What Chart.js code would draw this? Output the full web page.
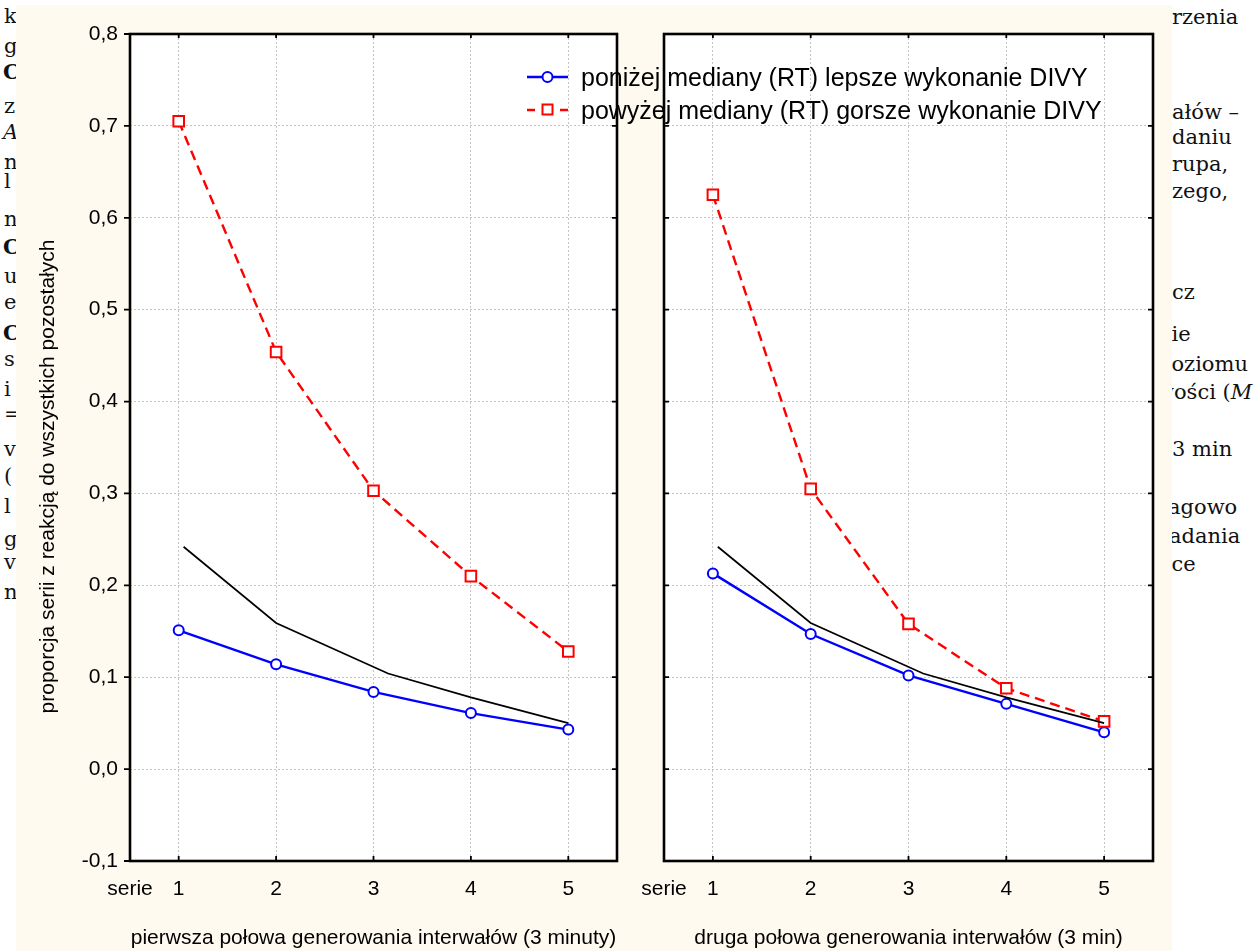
<!DOCTYPE html>
<html>
<head>
<meta charset="utf-8">
<script src="https://cdn.jsdelivr.net/npm/chart.js@4.4.1/dist/chart.umd.min.js"></script>
<style>
html, body { margin: 0; padding: 0; background: #fff; }
body { width: 1259px; height: 951px; position: relative; overflow: hidden; font-family: "Liberation Sans", Arial, sans-serif; }
#bgtext { position: absolute; left: 0; top: 0; width: 1259px; height: 951px; font-family: "DejaVu Serif", serif; font-size: 21px; color: #111; }
#bgtext span { position: absolute; white-space: nowrap; line-height: 1; }
#paper { position: absolute; left: 16px; top: 5px; width: 1156px; height: 946px; background: #fffaf0; }
.wrap { position: absolute; top: 5px; height: 946px; }
#leftWrap { left: 16px; width: 614px; }
#rightWrap { left: 630px; width: 541px; }
#legend { position: absolute; left: 527px; top: 0; font-size: 25px; color: #000; }
.row { position: absolute; left: 0; height: 24px; line-height: 24px; white-space: nowrap; }
.sample { position: absolute; left: 0; top: 0; width: 41px; height: 24px; }
.label { position: absolute; left: 54px; top: 0; }
</style>
</head>
<body>
<div id="bgtext"></div>
<div id="paper"></div>
<div class="wrap" id="leftWrap"><canvas id="chartLeft" width="614" height="946"></canvas></div>
<div class="wrap" id="rightWrap"><canvas id="chartRight" width="541" height="946"></canvas></div>
<div id="legend"></div>

<script>
/* ================= DATA ================= */
const seriesX = [1, 2, 3, 4, 5];
const seriesNames = [
    "poniżej mediany (RT) lepsze wykonanie DIVY",
    "powyżej mediany (RT) gorsze wykonanie DIVY"
];

// pierwsza połowa
const blueLeft = [0.151, 0.114, 0.084, 0.061, 0.043];
const redLeft = [0.705, 0.454, 0.303, 0.210, 0.128];
// druga połowa
const blueRight = [0.213, 0.147, 0.102, 0.071, 0.040];
const redRight = [0.625, 0.305, 0.158, 0.088, 0.052];
// black reference line (same in both panels)
const blackX = [1.05, 2, 3.15, 4, 5];
const blackY = [0.242, 0.159, 0.104, 0.078, 0.050];

const xTickPos = [0.5, 1, 2, 3, 4, 5];
const xTickLabels = ["serie", "1", "2", "3", "4", "5"];
const yTicks = [-0.1, 0, 0.1, 0.2, 0.3, 0.4, 0.5, 0.6, 0.7, 0.8];

const yTitle = "proporcja serii z reakcją do wszystkich pozostałych";
const xTitleLeft = "pierwsza połowa generowania interwałów (3 minuty)";
const xTitleRight = "druga połowa generowania interwałów (3 min)";

// fragments of the page behind the figure
const bgLines = [
    [1172, 7, "rzenia"], [1172, 102, "ałów –"], [1172, 127, "daniu"],
    [1172, 154, "rupa,"], [1172, 181, "zego,"], [1172, 282, "cz"],
    [1158, 324, "nie"], [1158, 354, "poziomu"], [1156, 382, "wości (<i>M</i>"],
    [1172, 439, " 3 min"], [1158, 497, "ragowo"], [1158, 526, "zadania"], [1158, 554, "ńce"],
    [4, 6, "k"], [4, 36, "g"], [3, 61, "<b>C</b>"], [4, 96, "z"], [3, 122, "<i>A</i>"],
    [4, 152, "n"], [4, 171, "l"], [4, 209, "n"], [3, 236, "<b>C</b>"], [4, 266, "u"],
    [4, 292, "e"], [3, 322, "<b>C</b>"], [4, 349, "s"], [4, 379, "i"], [4, 404, "="],
    [4, 439, "v"], [4, 466, "("], [4, 496, "l"], [4, 529, "g"], [4, 552, "v"], [4, 582, "n"]
];

const BLUE = "#0000ff";
const RED = "#ff0000";
const FONT = "'Liberation Sans', Arial, sans-serif";

/* ================= BACKGROUND TEXT ================= */
const bg = document.getElementById("bgtext");
bgLines.forEach(([x, y, t]) => {
    const s = document.createElement("span");
    s.style.left = x + "px";
    s.style.top = y + "px";
    s.innerHTML = t;
    bg.appendChild(s);
});

/* ================= LEGEND ================= */
const legend = document.getElementById("legend");
[
    { top: 65, color: BLUE, dashed: false },
    { top: 98, color: RED, dashed: true }
].forEach((row, i) => {
    const div = document.createElement("div");
    div.className = "row";
    div.style.top = row.top + "px";
    const c = document.createElement("canvas");
    c.className = "sample";
    c.width = 41; c.height = 24;
    const g = c.getContext("2d");
    g.strokeStyle = row.color;
    g.lineWidth = 2.5;
    g.beginPath();
    if (row.dashed) {
        g.moveTo(0, 12); g.lineTo(8, 12);
        g.moveTo(33, 12); g.lineTo(41, 12);
        g.stroke();
        g.lineWidth = 2;
        g.fillStyle = "#fff";
        g.fillRect(15.5, 6.5, 10, 10);
        g.strokeRect(15.5, 6.5, 10, 10);
    } else {
        g.moveTo(0, 12); g.lineTo(41, 12);
        g.stroke();
        g.lineWidth = 2;
        g.fillStyle = "#fff";
        g.beginPath();
        g.arc(20.5, 12, 5, 0, Math.PI * 2);
        g.fill(); g.stroke();
    }
    div.appendChild(c);
    const span = document.createElement("span");
    span.className = "label";
    span.textContent = seriesNames[i];
    div.appendChild(span);
    legend.appendChild(div);
});

/* ================= CHARTS ================= */
const framePlugin = {
    id: "frame",
    beforeDraw(chart) {
        const { ctx, chartArea: a } = chart;
        ctx.save();
        ctx.fillStyle = "#fff";
        ctx.fillRect(a.left, a.top, a.width, a.height);
        ctx.restore();
    },
    afterDraw(chart) {
        const { ctx, chartArea: a, scales } = chart;
        const opts = chart.options.plugins.frame;
        ctx.save();
        ctx.strokeStyle = "#000";
        ctx.lineWidth = 1.8;
        ctx.beginPath();
        seriesX.forEach(v => {
            const px = scales.x.getPixelForValue(v);
            ctx.moveTo(px, a.bottom); ctx.lineTo(px, a.bottom - 5);
            ctx.moveTo(px, a.top); ctx.lineTo(px, a.top + 4);
        });
        yTicks.forEach(v => {
            const py = scales.y.getPixelForValue(v);
            if (opts.outerLeft) { ctx.moveTo(a.left, py); ctx.lineTo(a.left - 6, py); }
            else { ctx.moveTo(a.left, py); ctx.lineTo(a.left + 5, py); }
            ctx.moveTo(a.right, py); ctx.lineTo(a.right - 5, py);
        });
        ctx.stroke();
        ctx.lineWidth = 2.6;
        ctx.strokeRect(a.left, a.top, a.width, a.height);

        // vertical axis title, a little below the plot centre as in the original
        if (opts.yTitle) {
            ctx.translate(32, (a.top + a.bottom) / 2 + 29);
            ctx.rotate(-Math.PI / 2);
            ctx.fillStyle = "#000";
            ctx.font = "21px " + FONT;
            ctx.textAlign = "center";
            ctx.textBaseline = "middle";
            ctx.fillText(opts.yTitle, 0, 0);
        }
        ctx.restore();
    }
};

function pts(xs, ys) {
    return xs.map((x, i) => ({ x: x, y: ys[i] }));
}

function makePanel(id, blue, red, xTitle, isLeft) {
    const canvas = document.getElementById(id);
    const padRight = isLeft ? 13 : 18;
    const axisWidth = isLeft ? 114 : 34;
    return new Chart(canvas, {
        type: "line",
        data: {
            datasets: [
                {
                    label: "black",
                    data: pts(blackX, blackY),
                    borderColor: "#000",
                    borderWidth: 1.7,
                    pointRadius: 0,
                    tension: 0
                },
                {
                    label: seriesNames[1],
                    data: pts(seriesX, red),
                    borderColor: RED,
                    borderWidth: 2.4,
                    borderDash: [10, 6],
                    pointStyle: "rect",
                    pointRadius: 7.5,
                    pointBorderWidth: 2,
                    pointBackgroundColor: "#fff",
                    pointBorderColor: RED,
                    tension: 0
                },
                {
                    label: seriesNames[0],
                    data: pts(seriesX, blue),
                    borderColor: BLUE,
                    borderWidth: 2.4,
                    pointStyle: "circle",
                    pointRadius: 5,
                    pointBorderWidth: 2,
                    pointBackgroundColor: "#fff",
                    pointBorderColor: BLUE,
                    tension: 0
                }
            ]
        },
        options: {
            responsive: false,
            animation: false,
            devicePixelRatio: 1,
            layout: { padding: { left: 0, top: 29, right: padRight, bottom: 0 } },
            plugins: {
                legend: { display: false },
                tooltip: { enabled: false },
                frame: { outerLeft: isLeft, yTitle: isLeft ? yTitle : "" }
            },
            scales: {
                x: {
                    type: "linear",
                    min: 0.5,
                    max: 5.5,
                    afterBuildTicks: s => { s.ticks = xTickPos.map(v => ({ value: v })); },
                    afterFit: s => {
                        s.height = 90;
                        s.paddingLeft = 0;
                        s.paddingRight = 0;
                    },
                    ticks: {
                        autoSkip: false,
                        maxRotation: 0,
                        padding: 16,
                        color: "#000",
                        font: { family: FONT, size: 21 },
                        callback: (v, i) => xTickLabels[i]
                    },
                    grid: { color: "#c4c4c4", lineWidth: 1, drawTicks: false },
                    border: { display: false, dash: [2, 2] },
                    title: {
                        display: true,
                        text: xTitle,
                        color: "#000",
                        font: { family: FONT, size: 21 },
                        padding: { top: 0, bottom: 0 }
                    }
                },
                y: {
                    type: "linear",
                    min: -0.1,
                    max: 0.8,
                    afterBuildTicks: s => { s.ticks = yTicks.map(v => ({ value: v })); },
                    afterFit: s => { s.width = axisWidth; },
                    ticks: {
                        display: isLeft,
                        padding: 12,
                        color: "#000",
                        font: { family: FONT, size: 21 },
                        callback: v => v.toFixed(1).replace(".", ",")
                    },
                    grid: { color: "#c4c4c4", lineWidth: 1, drawTicks: false },
                    border: { display: false, dash: [2, 2] },
                    title: { display: false }
                }
            }
        },
        plugins: [framePlugin]
    });
}

makePanel("chartLeft", blueLeft, redLeft, xTitleLeft, true);
makePanel("chartRight", blueRight, redRight, xTitleRight, false);
</script>
</body>
</html>
